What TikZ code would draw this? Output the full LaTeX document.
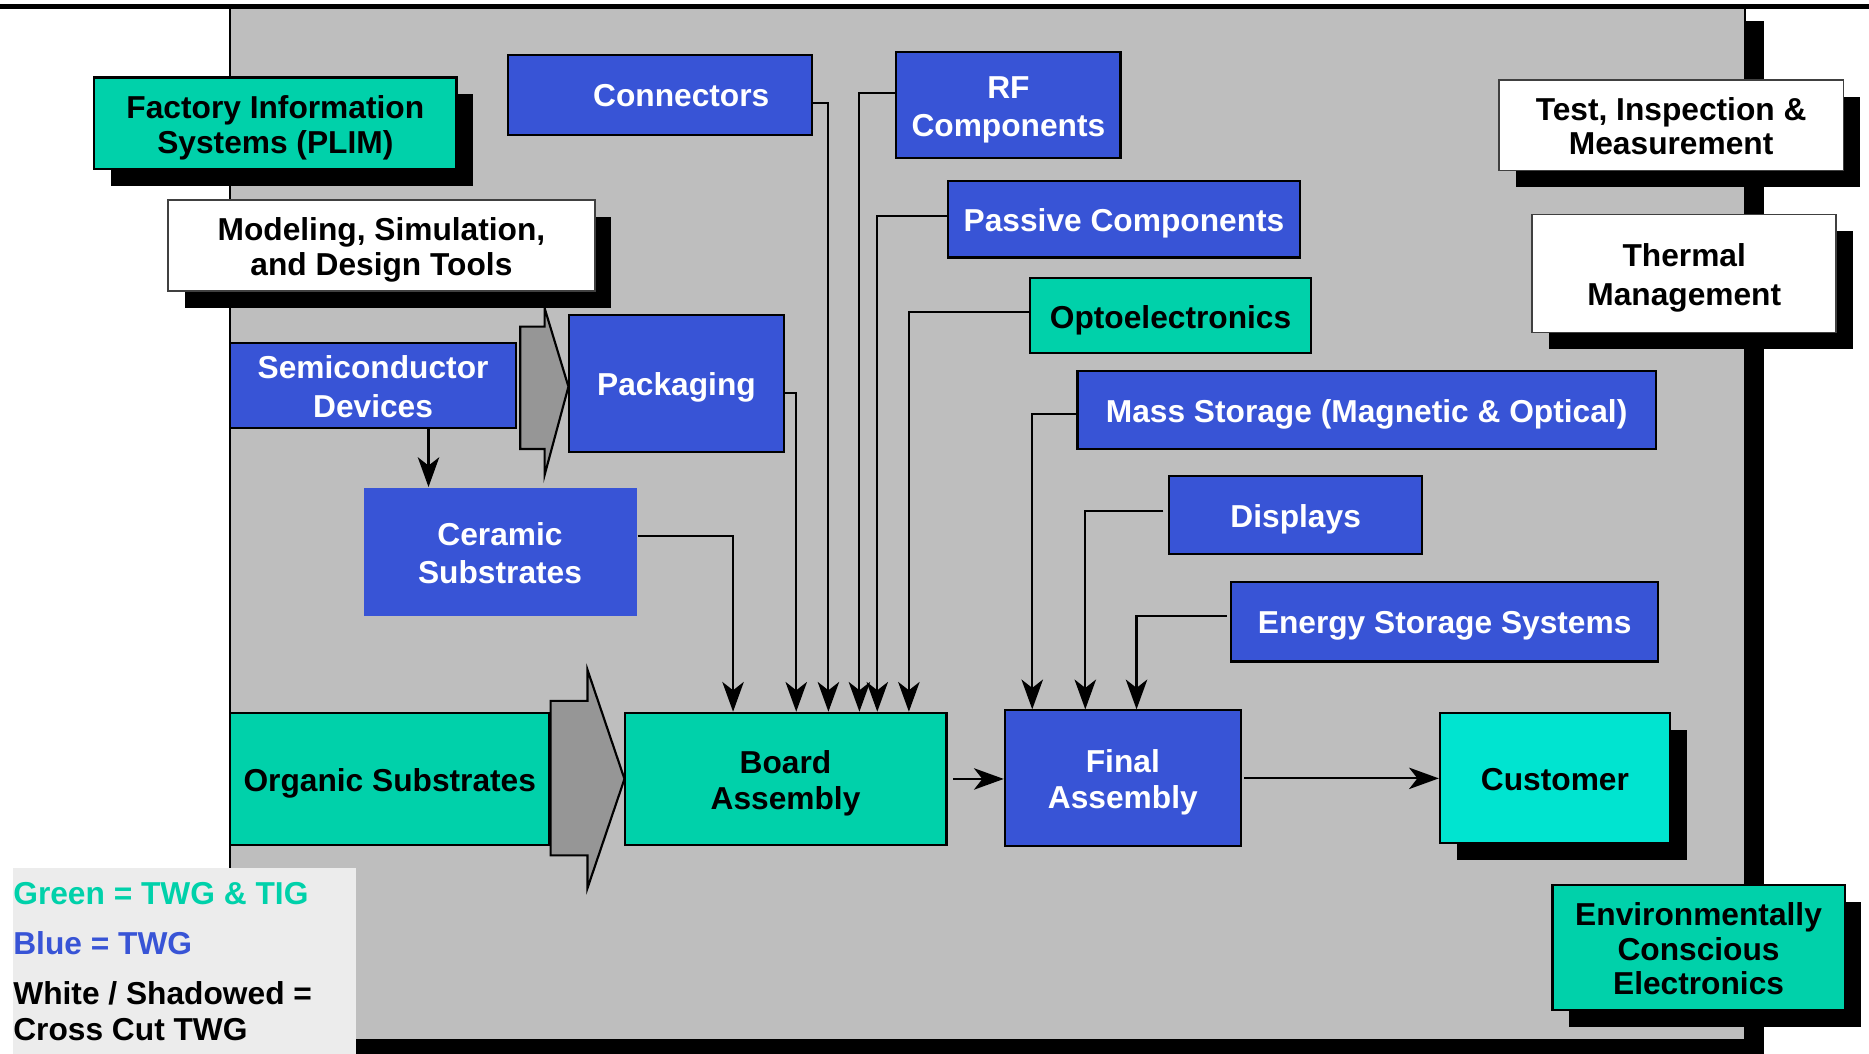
\documentclass[tikz,border=0pt]{standalone}
\usepackage{fontspec}
\setmainfont{Liberation Sans}
\usetikzlibrary{arrows.meta,shadows,calc}
\definecolor{tblue}{HTML}{3854D6}
\definecolor{tgreen}{HTML}{00D1AA}
\definecolor{tcyan}{HTML}{00E4D0}
\definecolor{panelgray}{HTML}{BEBEBE}
\definecolor{arrowgray}{HTML}{969696}
\definecolor{legendgray}{HTML}{ECECEC}
\pgfdeclarelayer{back}
\pgfdeclarelayer{mid}
\pgfsetlayers{back,mid,main}
% struts fixing the height of the first line and the depth of the last one
\newcommand\topstrut{\rule{0pt}{26pt}}
\newcommand\botstrut{\rule[-5.64pt]{0pt}{0pt}}
\newcommand\firstline{\rule{0pt}{26.5pt}}
\begin{document}
\begin{tikzpicture}[x=1pt,y=-1pt,
  font=\fontsize{26.6}{30}\selectfont\bfseries,
  box/.style={rectangle, inner sep=0pt, align=center, line width=1.8pt, draw=black,
    execute at begin node=\topstrut, execute at end node=\botstrut},
  tall/.style={font=\fontsize{26.6}{32}\selectfont\bfseries},
  tight/.style={font=\fontsize{26.6}{29}\selectfont\bfseries},
  bluebox/.style={box, fill=tblue, text=white},
  greenbox/.style={box, fill=tgreen, text=black},
  cyanbox/.style={box, fill=tcyan, text=black},
  whitebox/.style={box, fill=white, draw=black!75, line width=1.5pt, text=black},
  shadowed/.style={drop shadow={shadow xshift=14pt, shadow yshift=-14pt, opacity=1, fill=black}},
  conn/.style={line width=1.8pt, -{Stealth[length=25pt,width=18pt,inset=7pt]}},
  blockarrow/.style={fill=arrowgray, draw=black, line width=1.8pt, line join=miter},
  legend/.style={anchor=west, inner sep=0pt, align=left}]
\useasboundingbox (0,0) rectangle (1568,884);

% background panel with its shadow, header rule and legend field
\begin{pgfonlayer}{back}
  \fill[black] (209,18) rectangle (1480,884);
  \filldraw[fill=panelgray, draw=black, line width=1.5pt] (193,7) rectangle (1464,872);
  \fill[black] (0,3) rectangle (1568,7.5);
  \fill[legendgray] (10.5,728) rectangle (298.6,884);
\end{pgfonlayer}

% cross-cut and area boxes
\node[greenbox, tight, shadowed, minimum width=304pt, minimum height=77pt] (fis) at (231,103.5) {\firstline Factory Information\\Systems (PLIM)};
\node[whitebox, tight, shadowed, minimum width=358pt, minimum height=76pt] (mod) at (320,206) {\firstline Modeling, Simulation,\\and Design Tools};
\node[bluebox, minimum width=255pt, minimum height=67pt] (con) at (553.5,79.5) {\hspace*{36pt}Connectors};
\node[bluebox, tall, minimum width=188pt, minimum height=89pt] (rf) at (846,88) {\firstline RF\\Components};
\node[bluebox, minimum width=295pt, minimum height=64pt] (pas) at (943,184) {Passive Components};
\node[greenbox, minimum width=236pt, minimum height=63pt] (opt) at (982,265) {Optoelectronics};
\node[bluebox, minimum width=485pt, minimum height=66pt] (mas) at (1146.5,344) {Mass Storage (Magnetic \& Optical)};
\node[bluebox, minimum width=212pt, minimum height=65pt] (dis) at (1087,432) {Displays};
\node[bluebox, minimum width=358pt, minimum height=67pt] (ene) at (1212,521.5) {Energy Storage Systems};
\node[bluebox, tall, minimum width=240pt, minimum height=71pt] (sem) at (313,323.5) {\firstline Semiconductor\\Devices};
\node[bluebox, minimum width=181pt, minimum height=115pt] (pac) at (567.5,321.5) {Packaging};
\node[bluebox, tall, draw=none, minimum width=229pt, minimum height=107pt] (cer) at (419.5,463) {\firstline Ceramic\\Substrates};
\node[greenbox, minimum width=268pt, minimum height=111pt] (org) at (327,653.5) {Organic Substrates};
\node[greenbox, minimum width=270pt, minimum height=111pt] (brd) at (659,653.5) {\firstline Board\\Assembly};
\node[bluebox, minimum width=198pt, minimum height=114pt] (fin) at (942,653) {\firstline Final\\Assembly};
\node[cyanbox, shadowed, minimum width=193pt, minimum height=109pt] (cus) at (1304.5,653) {Customer};
\node[whitebox, tight, shadowed, minimum width=289pt, minimum height=76pt] (tim) at (1402,105) {\firstline Test, Inspection \&\\Measurement};
\node[whitebox, tall, shadowed, minimum width=255pt, minimum height=99pt] (thm) at (1413,229.5) {\firstline Thermal\\Management};
\node[greenbox, tight, shadowed, minimum width=245pt, minimum height=105pt] (ece) at (1425,795) {\firstline Environmentally\\Conscious\\Electronics};

% legend
\node[legend, text=tgreen] (lgg) at (11,750) {Green = TWG \& TIG};
\node[legend, text=tblue] (lgb) at (11,791) {Blue = TWG};
\node[legend, text=black] (lgw) at (11,848) {White / Shadowed =\\Cross Cut TWG};

% block arrows
\begin{pgfonlayer}{mid}
  \draw[blockarrow, shift={(sem.east)}] (2.5,-49.5) -- (23,-49.5) -- (23,-65) -- (43,0.9)
        -- (23,75) -- (23,53.2) -- (2.5,53.2) -- cycle;
  \draw[blockarrow, shift={(org.east)}] (0,-65.5) -- (31,-65.5) -- (31,-91.5) -- (62,0)
        -- (31,91.5) -- (31,64.1) -- (0,64.1) -- cycle;
\end{pgfonlayer}

% feeds into board assembly
\draw[conn] ([yshift=13pt]cer.east) -| ([xshift=-44pt]brd.north);
\draw[conn] ([yshift=-8pt]pac.east) -| ([xshift=9pt]brd.north);
\draw[conn] ([yshift=-7pt]con.east) -| ([xshift=36pt]brd.north);
\draw[conn] ([yshift=10pt]rf.west) -| ([xshift=62pt]brd.north);
\draw[conn] ([yshift=3pt]pas.west) -| ([xshift=77pt]brd.north);
\draw[conn] ([yshift=3pt]opt.west) -| ([xshift=103.5pt]brd.north);

% feeds into final assembly
\draw[conn] ([yshift=-3.6pt]mas.west) -| ([xshift=-76pt]fin.north);
\draw[conn] ([xshift=-4pt,yshift=3pt]dis.west) -| ([xshift=-31.5pt]fin.north);
\draw[conn] ([xshift=-3pt,yshift=4.5pt]ene.west) -| ([xshift=11.5pt]fin.north);

% main flow
\coordinate (sc) at ([xshift=46.5pt]sem.south);
\draw[conn] (sc) -- (sc |- cer.north);
\draw[conn] ([xshift=5pt]brd.east) -- (fin.west |- brd.east);
\draw[conn] ([xshift=2pt]fin.east) -- (cus.west |- fin.east);
\end{tikzpicture}
\end{document}
